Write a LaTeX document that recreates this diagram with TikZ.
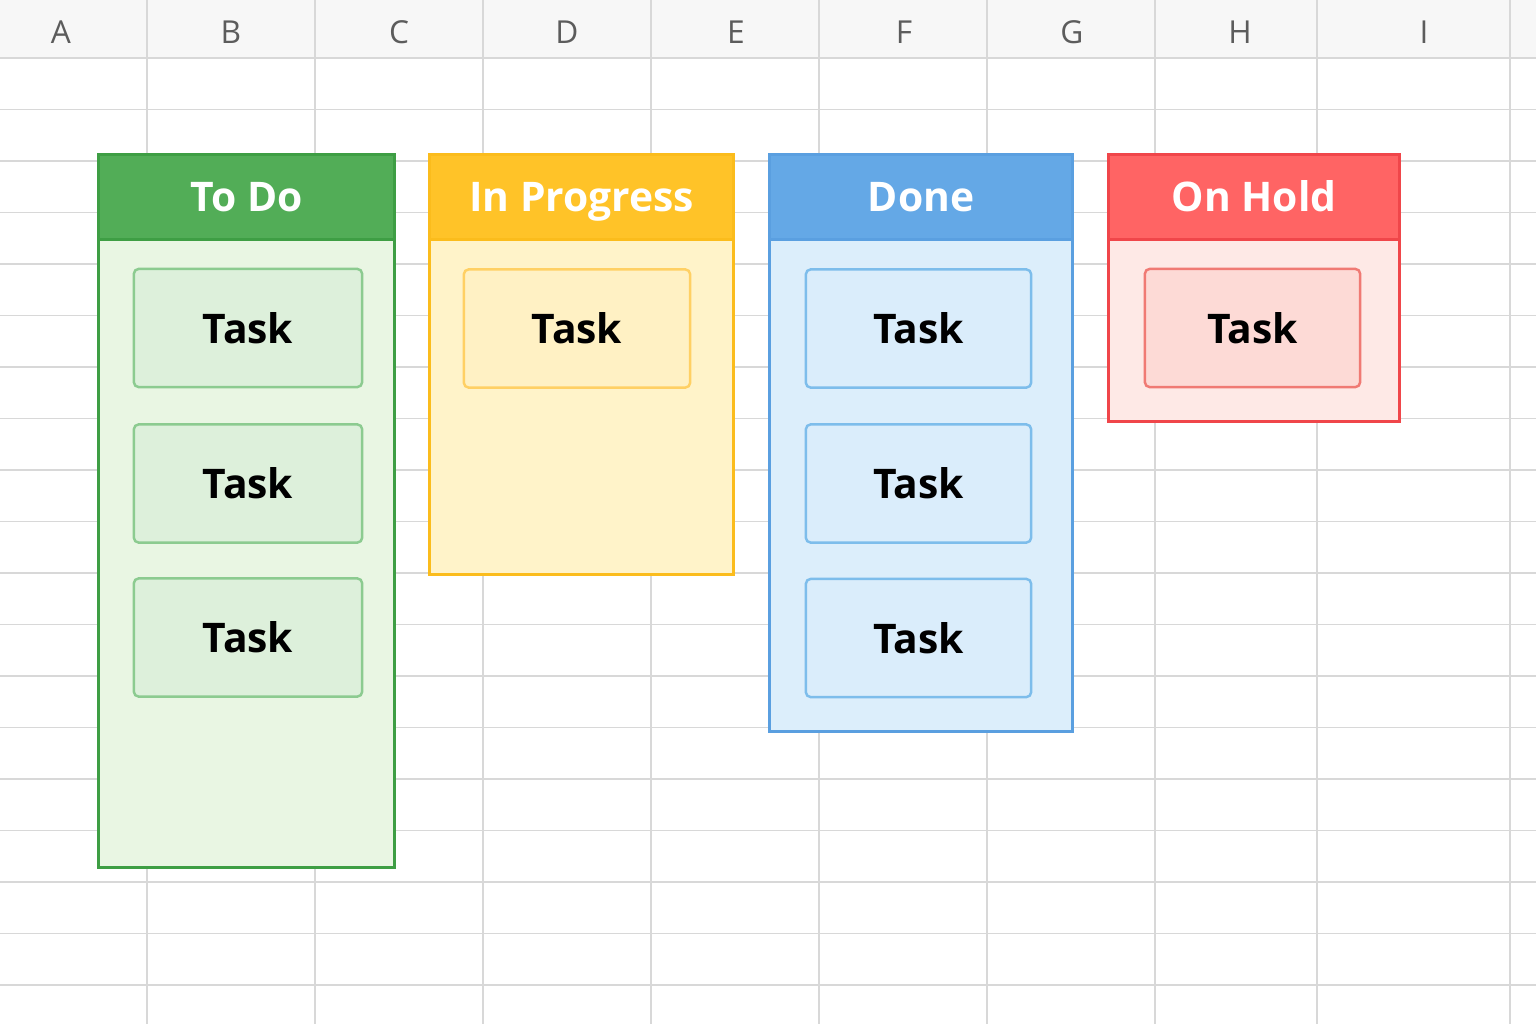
\documentclass[tikz,border=0pt]{standalone}
\usepackage{fontspec}
\setmainfont{Open Sans}
\usetikzlibrary{positioning}

\definecolor{gridline}{HTML}{D8D8D8}
\definecolor{headbg}{HTML}{F7F7F7}
\definecolor{headtxt}{HTML}{5C5C5C}
\definecolor{todoHead}{HTML}{52AD57}
\definecolor{todoEdge}{HTML}{3E9E44}
\definecolor{todoBody}{HTML}{E9F6E3}
\definecolor{todoTask}{HTML}{DDF0DB}
\definecolor{todoLine}{HTML}{8CCB90}
\definecolor{progHead}{HTML}{FFC328}
\definecolor{progEdge}{HTML}{FBBC1C}
\definecolor{progBody}{HTML}{FFF3C9}
\definecolor{progTask}{HTML}{FFF1C4}
\definecolor{progLine}{HTML}{FFD064}
\definecolor{doneHead}{HTML}{64A8E6}
\definecolor{doneEdge}{HTML}{5A9FE0}
\definecolor{doneBody}{HTML}{DCEEFB}
\definecolor{doneTask}{HTML}{DAEDFB}
\definecolor{doneLine}{HTML}{7DBDEB}
\definecolor{holdHead}{HTML}{FF6464}
\definecolor{holdEdge}{HTML}{F0464A}
\definecolor{holdBody}{HTML}{FEE9E6}
\definecolor{holdTask}{HTML}{FDDAD6}
\definecolor{holdLine}{HTML}{F07A74}

\tikzset{
  panel/.style={rectangle, draw=#1Edge, fill=#1Body, line width=0.85pt,
    anchor=north west, inner sep=0pt},
  colhead/.style={rectangle, draw=#1Edge, fill=#1Head, line width=0.85pt,
    anchor=north west, inner sep=0pt, minimum height=0.85cm,
    text height=1.75ex, text depth=0.25ex,
    text=white, font=\fontsize{11.6}{14}\selectfont\bfseries},
  task/.style={rectangle, rounded corners=1.3pt, draw=#1Line, fill=#1Task,
    line width=0.7pt, inner sep=0pt, minimum height=1.18cm,
    text=black, font=\fontsize{11.6}{14}\selectfont\bfseries},
  letter/.style={text=headtxt, font=\fontsize{9}{11}\selectfont}
}

\begin{document}
\begin{tikzpicture}[x=0.01cm, y=-0.01cm]
    \useasboundingbox (0,0) rectangle (1536,1024);

    % Sheet background and column header band
    \fill[white] (0,0) rectangle (1536,1024);
    \fill[headbg] (0,0) rectangle (1536,58);

    % Grid
    \foreach \gx in {147,315,483,651,819,987,1155,1317,1510}
        \draw[gridline, line width=0.35pt] (\gx,0) -- (\gx,1024);
    \foreach \r in {0,...,18}
        \draw[gridline, line width=0.35pt] (0,{58+51.5*\r}) -- (1536,{58+51.5*\r});

    % Column letters
    \foreach \lx/\lt in {61/A,231/B,399/C,567/D,736/E,904/F,1072/G,1240/H,1424/I}
        \node[letter] (col\lt) at (\lx,32) {\lt};

    % To Do
    \node[panel=todo, minimum width=2.96cm, minimum height=7.13cm] (todo) at (97,153) {};
    \node[colhead=todo, minimum width=2.96cm] (todohead) at (todo.north west) {To Do};
    \node[task=todo, minimum width=2.28cm] (todo1) at (248,328) {Task};
    \node[task=todo, minimum width=2.28cm] (todo2) at (248,483.5) {Task};
    \node[task=todo, minimum width=2.28cm] (todo3) at (248,637.5) {Task};

    % In Progress
    \node[panel=prog, minimum width=3.04cm, minimum height=4.20cm] (prog) at (428,153) {};
    \node[colhead=prog, minimum width=3.04cm] (proghead) at (prog.north west) {In Progress};
    \node[task=prog, minimum width=2.26cm] (prog1) at (577,328.5) {Task};

    % Done
    \node[panel=done, minimum width=3.03cm, minimum height=5.77cm] (done) at (768,153) {};
    \node[colhead=done, minimum width=3.03cm] (donehead) at (done.north west) {Done};
    \node[task=done, minimum width=2.25cm] (done1) at (918.5,328.5) {Task};
    \node[task=done, minimum width=2.25cm] (done2) at (918.5,483.5) {Task};
    \node[task=done, minimum width=2.25cm] (done3) at (918.5,638) {Task};

    % On Hold
    \node[panel=hold, minimum width=2.91cm, minimum height=2.67cm] (hold) at (1107,153) {};
    \node[colhead=hold, minimum width=2.91cm] (holdhead) at (hold.north west) {On Hold};
    \node[task=hold, minimum width=2.15cm] (hold1) at (1252.5,328) {Task};
\end{tikzpicture}
\end{document}
